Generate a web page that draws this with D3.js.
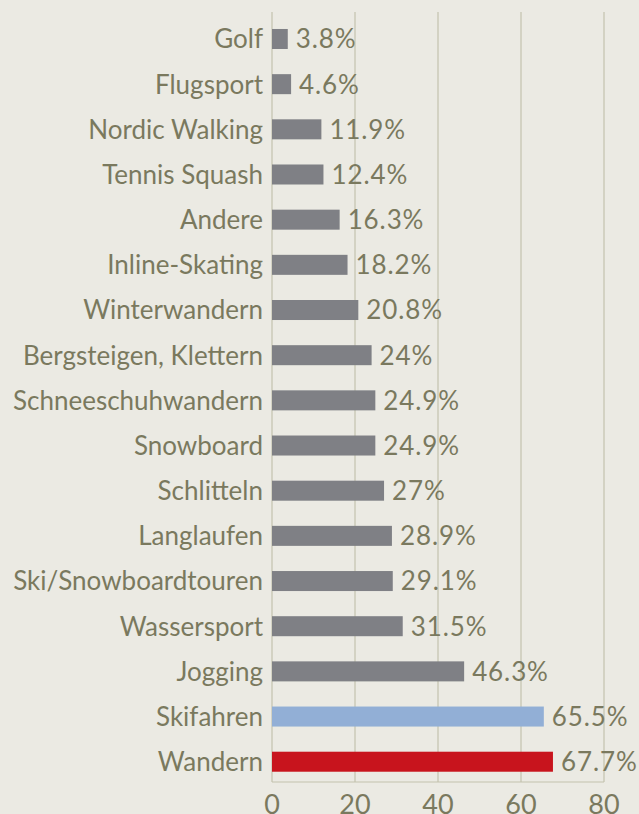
<!DOCTYPE html>
<html>
<head>
<meta charset="utf-8">
<script src="https://cdn.jsdelivr.net/npm/d3@7"></script>
<style>
  html, body { margin: 0; padding: 0; background: #ebeae3; }
  svg { display: block; }
  text { font-family: Lato, "Open Sans", sans-serif; fill: #7a795e; }
</style>
</head>
<body>
<script>
// sport categories, top to bottom
var categories = [
  "Golf", "Flugsport", "Nordic Walking", "Tennis Squash", "Andere",
  "Inline-Skating", "Winterwandern", "Bergsteigen, Klettern",
  "Schneeschuhwandern", "Snowboard", "Schlitteln", "Langlaufen",
  "Ski/Snowboardtouren", "Wassersport", "Jogging", "Skifahren", "Wandern"
];
// share in percent
var values = [3.8, 4.6, 11.9, 12.4, 16.3, 18.2, 20.8, 24, 24.9, 24.9, 27, 28.9, 29.1, 31.5, 46.3, 65.5, 67.7];
var valueLabels = ["3.8%", "4.6%", "11.9%", "12.4%", "16.3%", "18.2%", "20.8%", "24%", "24.9%",
  "24.9%", "27%", "28.9%", "29.1%", "31.5%", "46.3%", "65.5%", "67.7%"];
var tickValues = [0, 20, 40, 60, 80];

var w = 639, h = 814;
var plotLeft = 272, plotRight = 604, plotTop = 12, plotBottom = 782;

var data = categories.map(function(c, i){
  return { name: c, value: values[i], label: valueLabels[i] };
});

var svg = d3.select("body").append("svg")
  .attr("width", w)
  .attr("height", h);

svg.append("rect").attr("width", w).attr("height", h).style("fill", "#ebeae3");

var x = d3.scaleLinear().domain([0, 80]).range([plotLeft, plotRight]);
// bands run slightly past the axis line, as in the original
var y = d3.scaleBand().domain(categories).range([16.4, 784.3]).paddingInner(0.557).paddingOuter(0.2785);

// vertical gridlines
svg.selectAll(".grid")
  .data(tickValues)
  .enter().append("line")
  .attr("class", "grid")
  .attr("x1", function(d){ return x(d); })
  .attr("x2", function(d){ return x(d); })
  .attr("y1", plotTop)
  .attr("y2", plotBottom)
  .style("stroke", "#c3c2ad")
  .style("stroke-width", 1.2);

// bottom axis line
svg.append("line")
  .attr("x1", plotLeft).attr("x2", plotRight)
  .attr("y1", plotBottom).attr("y2", plotBottom)
  .style("stroke", "#c3c2ad")
  .style("stroke-width", 1.2);

var barColor = function(d){
  if (d.name === "Wandern") return "#c8141d";
  if (d.name === "Skifahren") return "#92afd6";
  return "#7f8085";
};

svg.selectAll(".bar")
  .data(data)
  .enter().append("rect")
  .attr("class", "bar")
  .attr("x", x(0))
  .attr("y", function(d){ return y(d.name); })
  .attr("width", function(d){ return x(d.value) - x(0); })
  .attr("height", y.bandwidth())
  .style("fill", barColor);

// category labels
svg.selectAll(".cat")
  .data(data)
  .enter().append("text")
  .attr("class", "cat")
  .attr("x", plotLeft - 9)
  .attr("y", function(d){ return y(d.name) + y.bandwidth() / 2; })
  .attr("dy", "0.36em")
  .attr("text-anchor", "end")
  .style("font-size", "26px")
  .text(function(d){ return d.name; });

// value labels
svg.selectAll(".val")
  .data(data)
  .enter().append("text")
  .attr("class", "val")
  .attr("x", function(d){ return x(d.value) + 8; })
  .attr("y", function(d){ return y(d.name) + y.bandwidth() / 2; })
  .attr("dy", "0.36em")
  .style("font-size", "26px")
  .style("letter-spacing", "0.9px")
  .text(function(d){ return d.label; });

// x tick labels
svg.selectAll(".tick-label")
  .data(tickValues)
  .enter().append("text")
  .attr("class", "tick-label")
  .attr("x", function(d){ return x(d); })
  .attr("y", 804)
  .attr("dy", "0.36em")
  .attr("text-anchor", "middle")
  .style("font-size", "27px")
  .text(function(d){ return d; });
</script>
</body>
</html>
